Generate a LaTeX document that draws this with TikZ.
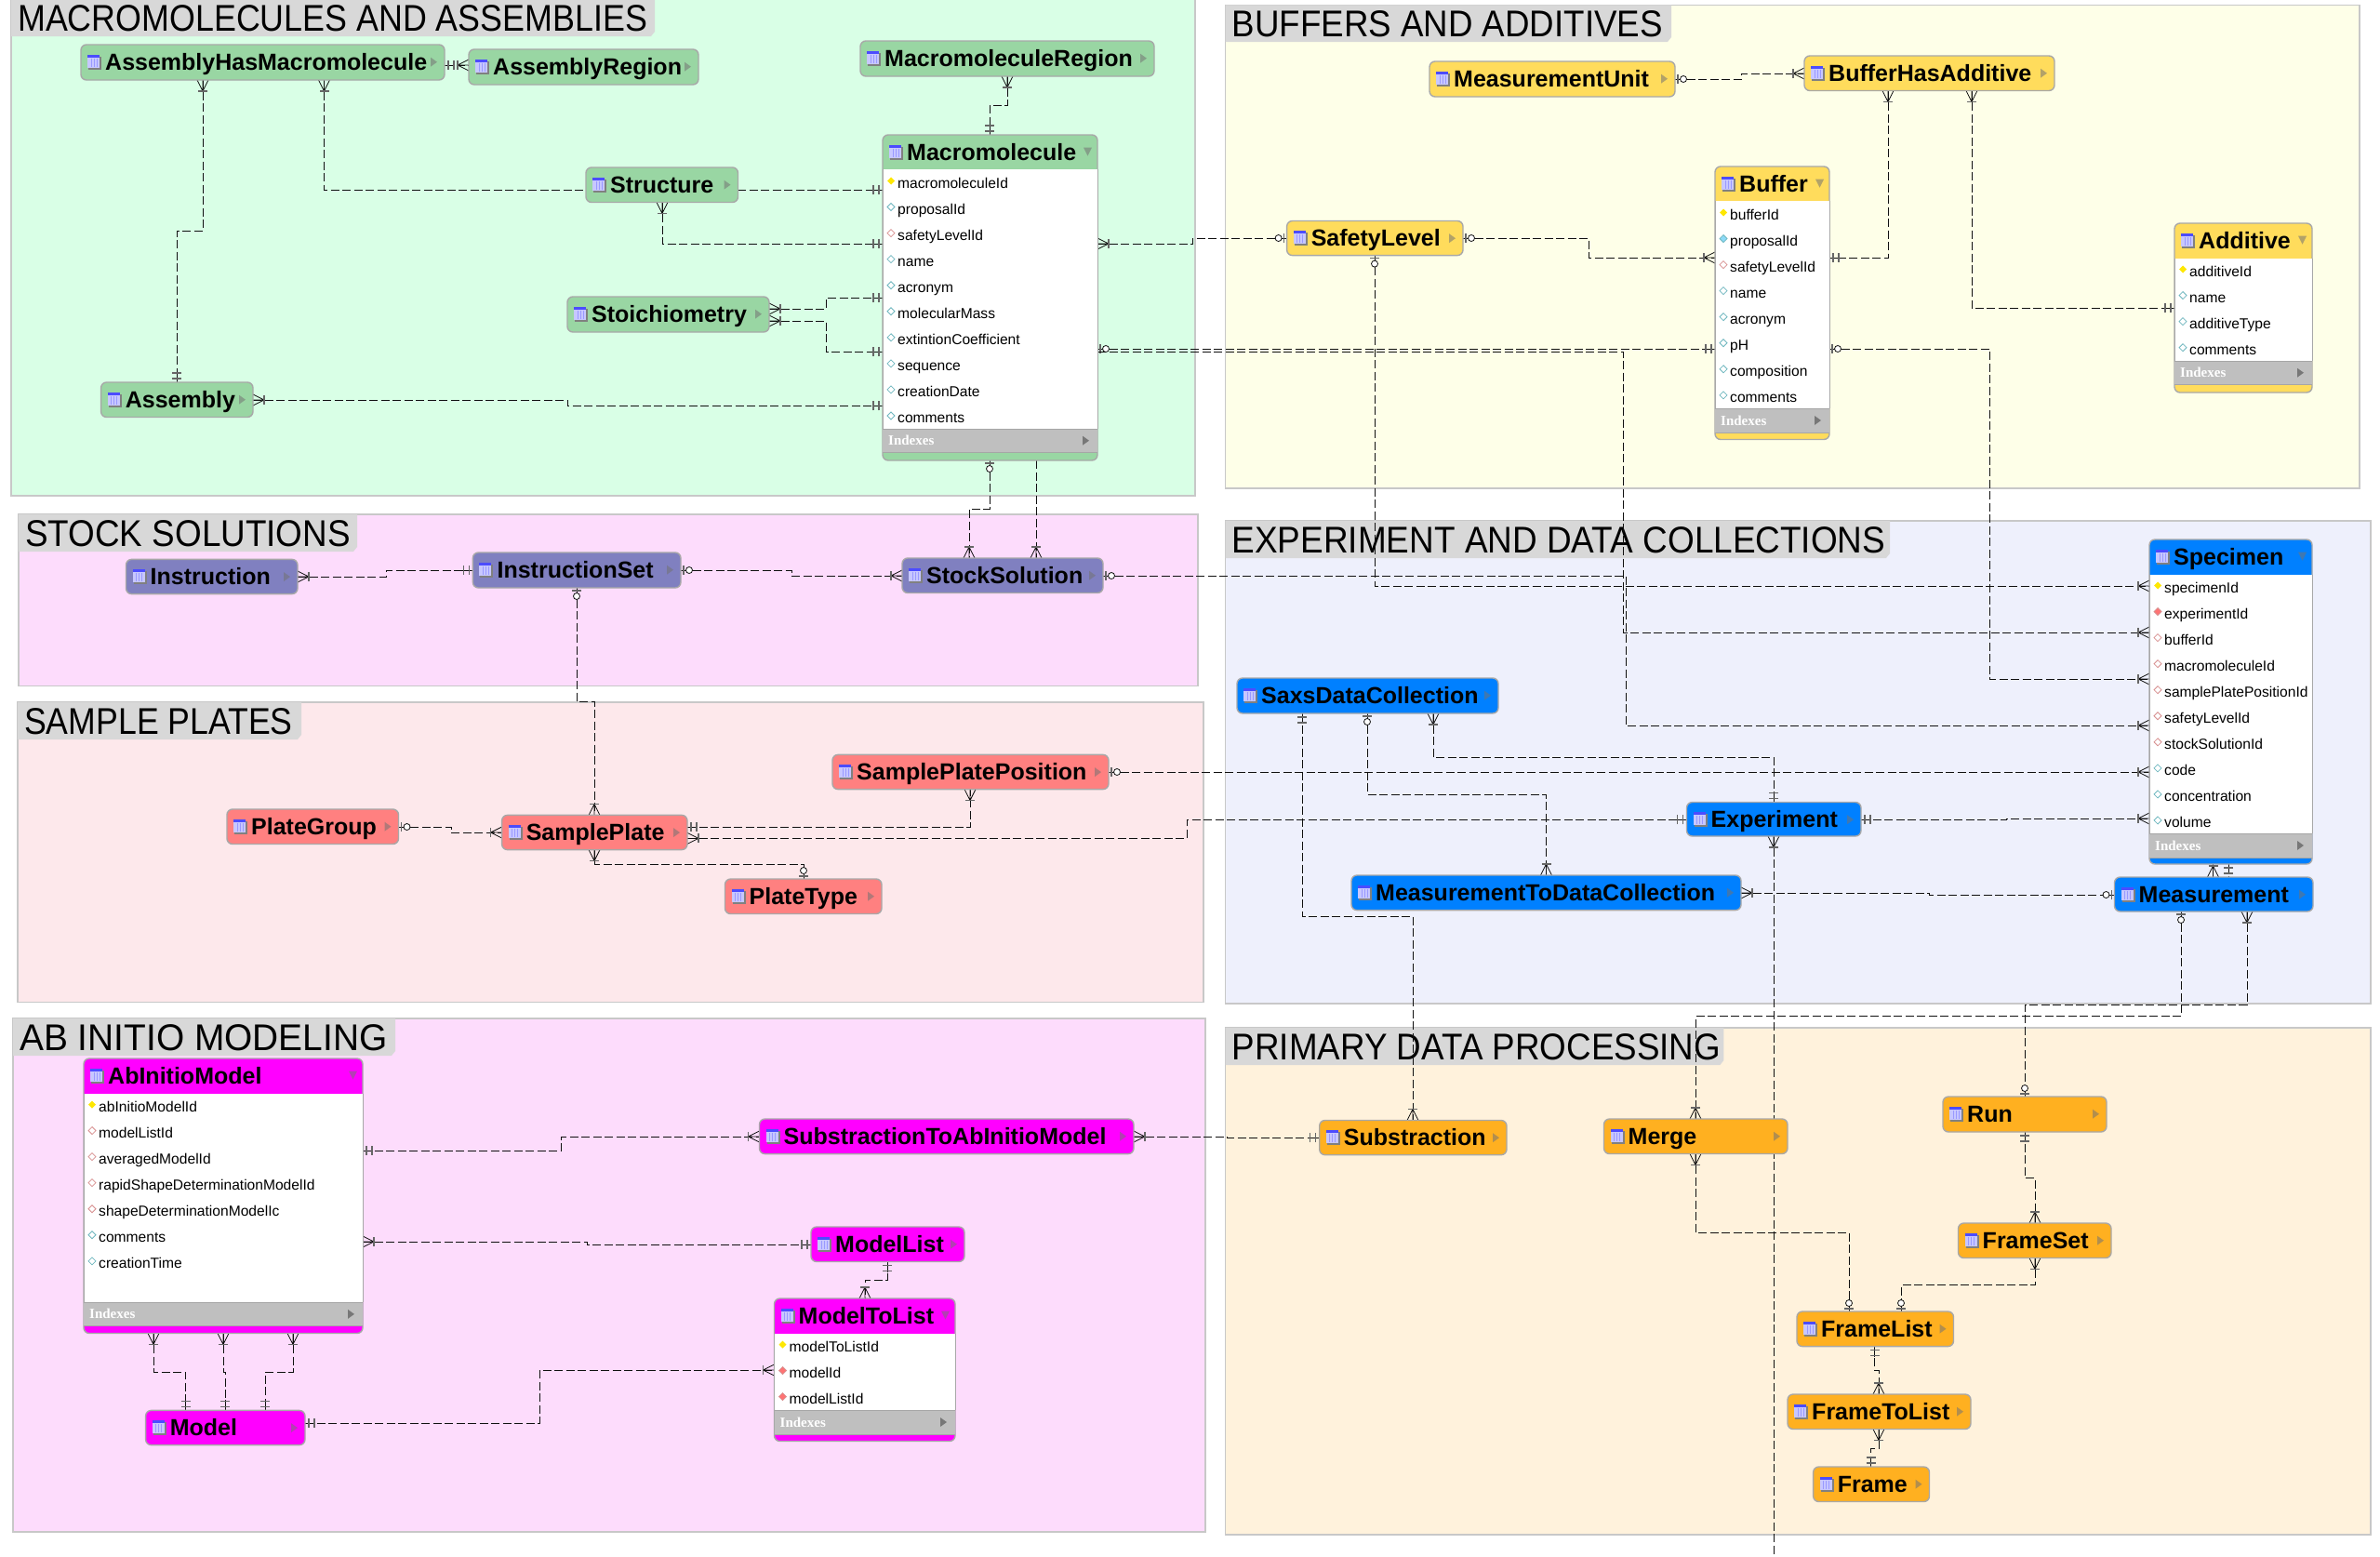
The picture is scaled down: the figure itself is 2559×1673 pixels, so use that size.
\documentclass[tikz,border=0pt]{standalone}
\usepackage{fontspec}
\setmainfont{Liberation Sans}
\newfontfamily\bandfont[FakeStretch=.9]{Liberation Sans}
\newfontfamily\ixfont{Liberation Serif}
\pgfdeclarelayer{panels}\pgfdeclarelayer{links}
\pgfsetlayers{panels,links,main}
\definecolor{cgreen}{HTML}{99D6A3}\definecolor{pgreen}{HTML}{D9FFE6}
\definecolor{cyellow}{HTML}{FFDC5C}\definecolor{pyellow}{HTML}{FEFFE8}
\definecolor{cpurple}{HTML}{8080C0}\definecolor{ppink}{HTML}{FDDCFC}
\definecolor{cred}{HTML}{FF8080}\definecolor{pred}{HTML}{FDE8EB}
\definecolor{cblue}{HTML}{0080FF}\definecolor{pblue}{HTML}{EEF0FC}
\definecolor{cmag}{HTML}{FF00FF}
\definecolor{corange}{HTML}{FFB020}\definecolor{porange}{HTML}{FFF2DC}
\definecolor{band}{HTML}{D8D8D8}\definecolor{edge}{HTML}{C8C8C8}
\definecolor{nedge}{HTML}{A8A8A8}\definecolor{lnk}{HTML}{101010}
\definecolor{barc}{HTML}{666666}
\definecolor{tealmk}{HTML}{70B8C0}\definecolor{redmk}{HTML}{D89090}
\tikzset{
  panelbox/.style={draw=edge,line width=1.3pt,inner sep=0pt,outer sep=0pt},
  ent/.style={draw=nedge,line width=1.4pt,rounded corners=6pt,inner sep=0pt,outer sep=0pt},
  lab/.style={inner sep=0pt,font=\fontsize{25}{28}\selectfont\bfseries,text=black},
  rowt/.style={inner sep=0pt,font=\fontsize{15.6}{18}\selectfont,text=black},
  ixt/.style={inner sep=0pt,font=\fontsize{15}{18}\selectfont\ixfont\bfseries,text=white},
  bandt/.style={inner sep=0pt,font=\fontsize{40}{44}\selectfont\bandfont,text=black},
  conn/.style={draw=lnk,line width=1pt,dash pattern=on 9pt off 3.5pt},
  mk/.style={draw=lnk,solid,line width=.8pt},
  barmk/.style={draw=barc,solid,line width=1.3pt},
  rowK/.style={fill=yellow!90!orange},
  rowC/.style={draw=tealmk,fill=white,line width=.8pt},
  rowF/.style={draw=tealmk,fill=cyan!45,line width=.8pt},
  rowR/.style={draw=redmk,fill=white,line width=.8pt},
  rowD/.style={draw=redmk,fill=red!55,line width=.8pt},
  pics/onemk/.style={code={\draw[mk] (0,0)--(11,0); \draw[barmk] (4,-5)--(4,5) (10,-5)--(10,5);}},
  pics/crowmk/.style={code={\draw[mk] (0,-6)--(12,0)--(0,6) (0,0)--(12,0); \draw[barmk] (12,-5)--(12,5);}},
  pics/zeromk/.style={code={\draw[mk] (0,0)--(13,0); \draw[barmk] (3,-5)--(3,5); \draw[mk,fill=white] (9,0) circle (3.5);}},
}
\newcommand\tw[2]{\scalebox{#1}[1]{#2}}
\newcommand\panelbox[9]{% name x0 y0 x1 y1 colour xt yt title
  \begin{pgfonlayer}{panels}
  \pgfmathsetmacro\ecx{(#2+#4)/2}\pgfmathsetmacro\ecy{(#3+#5)/2}
  \pgfmathsetmacro\ew{#4-#2}\pgfmathsetmacro\eh{#5-#3}
  \node[panelbox,fill=#6,minimum width=\ew pt,minimum height=\eh pt] (#1) at (\ecx,\ecy) {};
  \fill[band] (#2,#3) -- (#7,#3) -- (#7,{#8-5}) -- ({#7-4},#8) -- (#2,#8) -- cycle;
  \node[bandt,anchor=base west] (#1-t) at ({#2+7},{#8-5.5}) {#9};
  \end{pgfonlayer}}
\newcommand\entcore[7]{% name x0 y0 x1 y1 colour label
  \pgfmathsetmacro\ecx{(#2+#4)/2}\pgfmathsetmacro\ecy{(#3+#5)/2}
  \pgfmathsetmacro\ew{#4-#2}\pgfmathsetmacro\eh{#5-#3}
  \pgfmathsetmacro\lcy{#3+18.7}
  \node[ent,fill=#6,minimum width=\ew pt,minimum height=\eh pt] (#1) at (\ecx,\ecy) {};
  \fill[black!50] ({#2+8},{\lcy-6}) rectangle ({#2+22},{\lcy+8});
  \fill[blue!22!white] ({#2+7},{\lcy-7}) rectangle ({#2+20},{\lcy+6});
  \draw[blue!40!white,line width=.6pt] ({#2+11},{\lcy-4}) -- ({#2+11},{\lcy+5}) ({#2+14},{\lcy-4}) -- ({#2+14},{\lcy+5}) ({#2+17},{\lcy-4}) -- ({#2+17},{\lcy+5});
  \fill[blue!70!white] ({#2+7},{\lcy-8}) rectangle ({#2+20},{\lcy-5});
  \node[lab,anchor=base west] (#1-t) at ({#2+26},{\lcy+8.5}) {#7};}
\newcommand\entity[7]{\entcore{#1}{#2}{#3}{#4}{#5}{#6}{#7}
  \fill[black!55,opacity=.55] ({#4-15},{\lcy-5}) -- ({#4-8},{\lcy}) -- ({#4-15},{\lcy+5}) -- cycle;}
\newcommand\tablebox[7]{\entcore{#1}{#2}{#3}{#4}{#5}{#6}{#7}
  \fill[black!55,opacity=.55] ({#4-15},{\lcy-5}) -- ({#4-6},{\lcy-5}) -- ({#4-10.5},{\lcy+4}) -- cycle;}
\newcommand\tablerows[8]{% name x0 x1 hb bandtop bandbot first rows
  \fill[white] (#2,#4) rectangle (#3,#5);
  \fill[black!25] (#2,#5) rectangle (#3,#6);
  \draw[black!35,line width=.9pt] (#2,#5) -- (#3,#5) (#2,#6) -- (#3,#6);
  \draw[nedge,line width=.9pt] (#2,#4) -- (#2,#5) (#3,#4) -- (#3,#5);
  \pgfmathsetmacro\bmid{(#5+#6)/2}
  \node[ixt,anchor=base west] (#1-ix) at ({#2+6},{\bmid+5}) {Indexes};
  \fill[black!60,opacity=.8] ({#3-16},{\bmid-5}) -- ({#3-9},{\bmid}) -- ({#3-16},{\bmid+5}) -- cycle;
  \foreach \rtxt/\rkd [count=\ri] in {#8} {
    \pgfmathsetmacro\ry{#7+(\ri-1)*28.05}
    \node[rowt,anchor=base west] (#1-r\ri) at ({#2+16},{\ry+5.5}) {\rtxt};
    \path[\rkd] ({#2+9},{\ry-6.5}) -- ({#2+13},{\ry-2.5}) -- ({#2+9},{\ry+1.5}) -- ({#2+5},{\ry-2.5}) -- cycle;
  }}
\begin{document}
\begin{tikzpicture}[x=1pt,y=-1pt]
\useasboundingbox (0,0) rectangle (2559,1673);
\begin{pgfonlayer}{panels}
\fill[white] (0,0) rectangle (2559,1673);
\end{pgfonlayer}
% panels
\panelbox{PA}{12}{-2}{1285}{533}{pgreen}{704}{39}{\tw{.995}{MACROMOLECULES AND ASSEMBLIES}}
\panelbox{PB}{1317.5}{5.4}{2537}{525}{pyellow}{1797}{45}{\tw{1.02}{BUFFERS AND ADDITIVES}}
\panelbox{PC}{20}{553}{1288}{737.5}{ppink}{384}{593}{\tw{1.024}{STOCK SOLUTIONS}}
\panelbox{PD}{19}{755}{1294}{1077.5}{pred}{324}{795}{\tw{.99}{SAMPLE PLATES}}
\panelbox{PE}{1317.5}{560}{2549}{1079}{pblue}{2032}{600}{\tw{1.026}{EXPERIMENT AND DATA COLLECTIONS}}
\panelbox{PF}{14}{1095}{1296}{1647}{ppink}{425}{1135}{\tw{1.08}{AB INITIO MODELING}}
\panelbox{PG}{1317.5}{1105}{2549}{1650}{porange}{1853.4}{1145}{\tw{1.022}{PRIMARY DATA PROCESSING}}
% green
\entity{AHM}{87}{48}{478}{86}{cgreen}{AssemblyHasMacromolecule}
\entity{AR}{504}{53}{751}{91}{cgreen}{AssemblyRegion}
\entity{MR}{925}{44}{1241}{82}{cgreen}{MacromoleculeRegion}
\entity{Str}{630}{180}{793.5}{217.5}{cgreen}{Structure}
\entity{Sto}{610}{319}{827}{357}{cgreen}{Stoichiometry}
\entity{Asm}{108.6}{411}{272}{448.5}{cgreen}{Assembly}
\tablebox{Mac}{949}{145}{1180}{495}{cgreen}{Macromolecule}
\tablerows{Mac}{949}{1180}{182}{461.4}{486}{197}{macromoleculeId/rowK,proposalId/rowC,safetyLevelId/rowR,name/rowC,acronym/rowC,molecularMass/rowC,extintionCoefficient/rowC,sequence/rowC,creationDate/rowC,comments/rowC}
% yellow
\entity{MU}{1537}{66}{1801}{104}{cyellow}{MeasurementUnit}
\entity{BHA}{1940}{60}{2209}{97.5}{cyellow}{BufferHasAdditive}
\entity{SL}{1383.6}{237.5}{1573}{274.6}{cyellow}{SafetyLevel}
\tablebox{Buf}{1844}{179}{1967}{472.5}{cyellow}{Buffer}
\tablerows{Buf}{1844}{1967}{216}{439}{465}{231}{bufferId/rowK,proposalId/rowF,safetyLevelId/rowR,name/rowC,acronym/rowC,pH/rowC,composition/rowC,comments/rowC}
\tablebox{Add}{2338}{240}{2486}{422}{cyellow}{Additive}
\tablerows{Add}{2338}{2486}{277.5}{388}{413.5}{292}{additiveId/rowK,name/rowC,additiveType/rowC,comments/rowC}
% stock
\entity{Ins}{135.5}{601.4}{320}{638.6}{cpurple}{Instruction}
\entity{IS}{508.4}{594}{732}{632}{cpurple}{InstructionSet}
\entity{SS}{970}{600}{1186}{637.5}{cpurple}{StockSolution}
% plates
\entity{SPP}{895}{811.4}{1192}{848.6}{cred}{SamplePlatePosition}
\entity{PGr}{244}{870}{428.5}{907.5}{cred}{PlateGroup}
\entity{SP}{539.6}{876.4}{739}{913.6}{cred}{SamplePlate}
\entity{PT}{779.5}{945}{948}{982.5}{cred}{PlateType}
% experiment
\tablebox{Spe}{2311}{580}{2486}{929}{cblue}{Specimen}
\tablerows{Spe}{2311}{2486}{617.5}{896}{922}{632}{specimenId/rowK,experimentId/rowD,bufferId/rowR,macromoleculeId/rowR,samplePlatePositionId/rowR,safetyLevelId/rowR,stockSolutionId/rowR,code/rowC,concentration/rowC,volume/rowC}
\entity{Sax}{1330}{729}{1611}{767}{cblue}{SaxsDataCollection}
\entity{Exp}{1813.5}{862.5}{2001}{899}{cblue}{Experiment}
\entity{MDC}{1453}{941}{1872}{978.6}{cblue}{MeasurementToDataCollection}
\entity{Mea}{2273.5}{943}{2487}{980}{cblue}{Measurement}
% ab initio
\tablebox{AIM}{90}{1138}{390}{1433.5}{cmag}{AbInitioModel}
\tablerows{AIM}{90}{390}{1175.5}{1400}{1425.7}{1190}{abInitioModelId/rowK,modelListId/rowR,averagedModelId/rowR,rapidShapeDeterminationModelId/rowR,shapeDeterminationModelIc/rowR,comments/rowC,creationTime/rowC}
\entity{STA}{816.5}{1203}{1219}{1240.6}{cmag}{SubstractionToAbInitioModel}
\entity{ML}{872}{1319}{1037}{1356.5}{cmag}{ModelList}
\tablebox{MTL}{832.5}{1396}{1027}{1549.5}{cmag}{ModelToList}
\tablerows{MTL}{832.5}{1027}{1433.5}{1516}{1542}{1448}{modelToListId/rowK,modelId/rowD,modelListId/rowD}
\entity{Mod}{156.6}{1516.4}{328}{1553.6}{cmag}{Model}
% primary
\entity{Sub}{1418.7}{1204.5}{1620}{1241.7}{corange}{Substraction}
\entity{Mer}{1724.5}{1203}{1922}{1240.5}{corange}{Merge}
\entity{Run}{2089}{1179}{2265}{1217}{corange}{Run}
\entity{FS}{2105.5}{1315}{2270}{1352.5}{corange}{FrameSet}
\entity{FL}{1932}{1410}{2100.5}{1447.6}{corange}{FrameList}
\entity{FTL}{1922}{1499}{2119}{1536.5}{corange}{FrameToList}
\entity{Fra}{1949.6}{1577}{2074.5}{1614.5}{corange}{Frame}
\coordinate (offpage) at (1907,1673);
\begin{pgfonlayer}{links}
% green
\draw[conn] (AHM.south -| 218,0) pic[rotate=270]{crowmk} -- (218,248) -- (190,248) -- (Asm.north -| 190,0) pic[rotate=90]{onemk};
\draw[conn] (AHM.south -| 348.5,0) pic[rotate=270]{crowmk} -- (348.5,204) -- (Mac.west |- 0,204) pic[rotate=180]{onemk};
\draw[conn] (AHM.east |- 0,70) pic[rotate=0]{onemk} -- (AR.west |- 0,70) pic[rotate=180]{crowmk};
\draw[conn] (MR.south -| 1083,0) pic[rotate=270]{crowmk} -- (1083,113) -- (1064,113) -- (Mac.north -| 1064,0) pic[rotate=90]{onemk};
\draw[conn] (Str.south -| 712,0) pic[rotate=270]{crowmk} -- (712,262) -- (Mac.west |- 0,262) pic[rotate=180]{onemk};
\draw[conn] (Sto.east |- 0,332) pic[rotate=0]{crowmk} -- (888,332) -- (888,320) -- (Mac.west |- 0,320) pic[rotate=180]{onemk};
\draw[conn] (Sto.east |- 0,345) pic[rotate=0]{crowmk} -- (888,345) -- (888,378) -- (Mac.west |- 0,378) pic[rotate=180]{onemk};
\draw[conn] (Asm.east |- 0,430) pic[rotate=0]{crowmk} -- (610.6,430) -- (610.6,436.4) -- (Mac.west |- 0,436.4) pic[rotate=180]{onemk};
\draw[conn] (Mac.south -| 1064,0) pic[rotate=270]{zeromk} -- (1064,547) -- (1042,547) -- (SS.north -| 1042,0) pic[rotate=90]{crowmk};
\draw[conn] (Mac.south -| 1114,0) -- (SS.north -| 1114,0) pic[rotate=90]{crowmk};
\draw[conn] (Mac.east |- 0,262) pic[rotate=0]{crowmk} -- (1282,262) -- (1282,256) -- (SL.west |- 0,256) pic[rotate=180]{zeromk};
\draw[conn] (Mac.east |- 0,375) pic[rotate=0]{zeromk} -- (Buf.west |- 0,375) pic[rotate=180]{onemk};
\draw[conn] (Mac.east |- 0,378) -- (1745,378) -- (1745,680) -- (Spe.west |- 0,680) pic[rotate=180]{crowmk};
% yellow
\draw[conn] (MU.east |- 0,85) pic[rotate=0]{zeromk} -- (1872,85) -- (1872,79) -- (BHA.west |- 0,79) pic[rotate=180]{crowmk};
\draw[conn] (BHA.south -| 2030,0) pic[rotate=270]{crowmk} -- (2030,277) -- (Buf.east |- 0,277) pic[rotate=0]{onemk};
\draw[conn] (BHA.south -| 2120,0) pic[rotate=270]{crowmk} -- (2120,331.4) -- (Add.west |- 0,331.4) pic[rotate=180]{onemk};
\draw[conn] (SL.east |- 0,256) pic[rotate=0]{zeromk} -- (1708,256) -- (1708,277) -- (Buf.west |- 0,277) pic[rotate=180]{crowmk};
\draw[conn] (SL.south -| 1478,0) pic[rotate=270]{zeromk} -- (1478,630) -- (Spe.west |- 0,630) pic[rotate=180]{crowmk};
\draw[conn] (Buf.east |- 0,375) pic[rotate=0]{zeromk} -- (2139,375) -- (2139,730) -- (Spe.west |- 0,730) pic[rotate=180]{crowmk};
% stock
\draw[conn] (Ins.east |- 0,620) pic[rotate=0]{crowmk} -- (415,620) -- (415,613) -- (IS.west |- 0,613) pic[rotate=180]{onemk};
\draw[conn] (IS.east |- 0,613) pic[rotate=0]{zeromk} -- (851,613) -- (851,619) -- (SS.west |- 0,619) pic[rotate=180]{crowmk};
\draw[conn] (SS.east |- 0,619) pic[rotate=0]{zeromk} -- (1748,619) -- (1748,780) -- (Spe.west |- 0,780) pic[rotate=180]{crowmk};
\draw[conn] (IS.south -| 620,0) pic[rotate=270]{zeromk} -- (620,754) -- (639,754) -- (SP.north -| 639,0) pic[rotate=90]{crowmk};
% plates
\draw[conn] (PGr.east |- 0,889) pic[rotate=0]{zeromk} -- (485,889) -- (485,895) -- (SP.west |- 0,895) pic[rotate=180]{crowmk};
\draw[conn] (SP.east |- 0,889) pic[rotate=0]{onemk} -- (1043,889) -- (SPP.south -| 1043,0) pic[rotate=270]{crowmk};
\draw[conn] (SP.east |- 0,901.4) pic[rotate=0]{crowmk} -- (1276,901.4) -- (1276,881.4) -- (Exp.west |- 0,881.4) pic[rotate=180]{onemk};
\draw[conn] (SP.south -| 639,0) pic[rotate=270]{crowmk} -- (639,929) -- (864,929) -- (PT.north -| 864,0) pic[rotate=90]{zeromk};
\draw[conn] (SPP.east |- 0,830) pic[rotate=0]{zeromk} -- (Spe.west |- 0,830) pic[rotate=180]{crowmk};
% experiment
\draw[conn] (Exp.east |- 0,881.4) pic[rotate=0]{onemk} -- (2157,881.4) -- (2157,880) -- (Spe.west |- 0,880) pic[rotate=180]{crowmk};
\draw[conn] (Sax.south -| 1400,0) pic[rotate=270]{onemk} -- (1400,985) -- (1519,985) -- (Sub.north -| 1519,0) pic[rotate=90]{crowmk};
\draw[conn] (Sax.south -| 1470,0) pic[rotate=270]{zeromk} -- (1470,854) -- (1662.5,854) -- (MDC.north -| 1662.5,0) pic[rotate=90]{crowmk};
\draw[conn] (Sax.south -| 1541,0) pic[rotate=270]{crowmk} -- (1541,814) -- (1907,814) -- (Exp.north -| 1907,0) pic[rotate=90]{onemk};
\draw[conn] (Exp.south -| 1907,0) pic[rotate=270]{crowmk} -- (offpage);
\draw[conn] (MDC.east |- 0,960) pic[rotate=0]{crowmk} -- (2074,960) -- (2074,962) -- (Mea.west |- 0,962) pic[rotate=180]{zeromk};
\draw[conn] (Spe.south -| 2379.5,0) -- (Mea.north -| 2379.5,0) pic[rotate=90]{crowmk};
\draw[conn] (Spe.south -| 2396,0) pic[rotate=270]{onemk} -- (Mea.north -| 2396,0);
\draw[conn] (Mea.south -| 2345,0) pic[rotate=270]{zeromk} -- (2345,1092.5) -- (1823,1092.5) -- (Mer.north -| 1823,0) pic[rotate=90]{crowmk};
\draw[conn] (Mea.south -| 2416,0) pic[rotate=270]{crowmk} -- (2416,1080) -- (2177,1080) -- (Run.north -| 2177,0) pic[rotate=90]{zeromk};
% primary
\draw[conn] (Run.south -| 2177,0) pic[rotate=270]{onemk} -- (2177,1266) -- (2188,1266) -- (FS.north -| 2188,0) pic[rotate=90]{crowmk};
\draw[conn] (FS.south -| 2188,0) pic[rotate=270]{crowmk} -- (2188,1381.5) -- (2044,1381.5) -- (FL.north -| 2044,0) pic[rotate=90]{zeromk};
\draw[conn] (Mer.south -| 1823,0) pic[rotate=270]{crowmk} -- (1823,1325) -- (1988,1325) -- (FL.north -| 1988,0) pic[rotate=90]{zeromk};
\draw[conn] (FL.south -| 2015.7,0) pic[rotate=270]{onemk} -- (2015.7,1473) -- (2020,1473) -- (FTL.north -| 2020,0) pic[rotate=90]{crowmk};
\draw[conn] (FTL.south -| 2020,0) pic[rotate=270]{crowmk} -- (2020,1557.6) -- (2011.6,1557.6) -- (Fra.north -| 2011.6,0) pic[rotate=90]{onemk};
% ab initio
\draw[conn] (AIM.east |- 0,1237) pic[rotate=0]{onemk} -- (603.5,1237) -- (603.5,1222) -- (STA.west |- 0,1222) pic[rotate=180]{crowmk};
\draw[conn] (STA.east |- 0,1222) pic[rotate=0]{crowmk} -- (1319,1222) -- (1319,1223) -- (Sub.west |- 0,1223) pic[rotate=180]{onemk};
\draw[conn] (AIM.east |- 0,1335) pic[rotate=0]{crowmk} -- (631,1335) -- (631,1338) -- (ML.west |- 0,1338) pic[rotate=180]{onemk};
\draw[conn] (ML.south -| 954,0) pic[rotate=270]{onemk} -- (954,1376) -- (930,1376) -- (MTL.north -| 930,0) pic[rotate=90]{crowmk};
\draw[conn] (Mod.east |- 0,1530) pic[rotate=0]{onemk} -- (580,1530) -- (580,1473) -- (MTL.west |- 0,1473) pic[rotate=180]{crowmk};
\draw[conn] (AIM.south -| 165,0) pic[rotate=270]{crowmk} -- (165,1475) -- (199.5,1475) -- (Mod.north -| 199.5,0) pic[rotate=90]{onemk};
\draw[conn] (AIM.south -| 240,0) pic[rotate=270]{crowmk} -- (240,1475) -- (242,1475) -- (Mod.north -| 242,0) pic[rotate=90]{onemk};
\draw[conn] (AIM.south -| 315,0) pic[rotate=270]{crowmk} -- (315,1475) -- (285,1475) -- (Mod.north -| 285,0) pic[rotate=90]{onemk};
\end{pgfonlayer}
\end{tikzpicture}
\end{document}
